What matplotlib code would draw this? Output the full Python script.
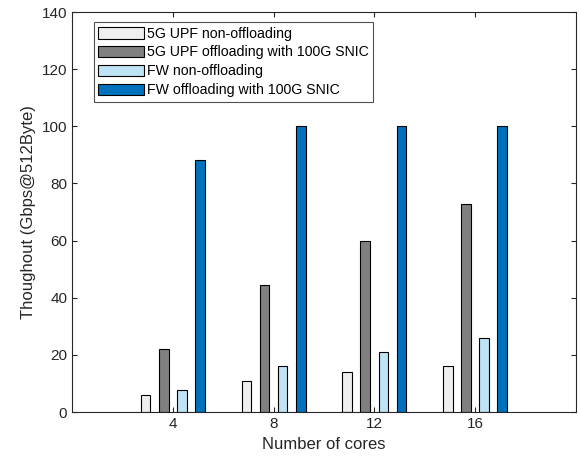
import numpy as np
import matplotlib.pyplot as plt

plt.rcParams['font.family'] = ['Liberation Sans', 'DejaVu Sans']

cores = ['4', '8', '12', '16']
upf_non = [6.0, 11.0, 14.2, 16.3]
upf_off = [22.0, 44.4, 59.9, 72.7]
fw_non = [7.6, 16.0, 21.0, 26.0]
fw_off = [88.3, 100.0, 100.0, 100.0]

series = [
    (upf_non, '#EFEFEF', '5G UPF non-offloading'),
    (upf_off, '#808080', '5G UPF offloading with 100G SNIC'),
    (fw_non, '#BDE3F5', 'FW non-offloading'),
    (fw_off, '#0072BD', 'FW offloading with 100G SNIC'),
]
offsets = [-0.27, -0.09, 0.09, 0.27]

fig = plt.figure(figsize=(5.81, 4.62), dpi=100)
ax = fig.add_axes([0.124, 0.108, 0.867, 0.866])

x = np.arange(1, len(cores) + 1)
for (vals, col, lab), off in zip(series, offsets):
    ax.bar(x + off, vals, width=0.095, color=col, edgecolor='black',
           linewidth=0.8, label=lab)

ax.set_xlim(0, 5)
ax.set_ylim(0, 140)
ax.set_xticks(x)
ax.set_xticklabels(cores)
ax.set_yticks(np.arange(0, 141, 20))
ax.tick_params(direction='in', top=True, right=True, labelsize=11,
               colors='#262626', length=3.5)
for s in ax.spines.values():
    s.set_color('#262626')
    s.set_linewidth(0.8)

ax.set_xlabel('Number of cores', fontsize=12, color='#262626')
ax.set_ylabel('Thoughout (Gbps@512Byte)', fontsize=12, color='#262626')

leg = ax.legend(loc='upper left', bbox_to_anchor=(0.035, 0.985), fontsize=10.2,
                frameon=True, fancybox=False, edgecolor='#262626',
                handlelength=3.2, handleheight=0.9, handletextpad=0.25,
                labelspacing=0.35, borderpad=0.3, borderaxespad=0.3)
leg.get_frame().set_linewidth(0.8)

fig.savefig('out.png', dpi=100)
